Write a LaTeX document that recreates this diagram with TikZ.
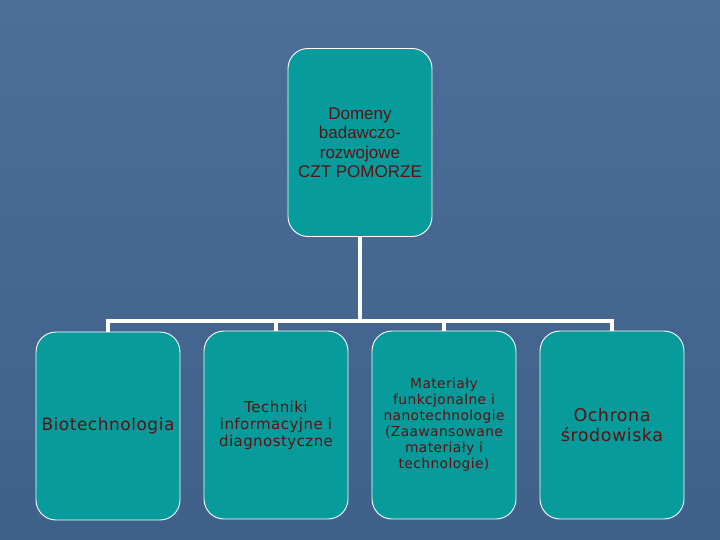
\documentclass[tikz,border=0pt]{standalone}
\usepackage{fontspec}
\setmainfont{DejaVu Sans}[LetterSpace=3]
\newfontfamily\topfont{Liberation Sans}
\definecolor{bgtop}{HTML}{4D6E98}
\definecolor{bgbot}{HTML}{3F6089}
\definecolor{boxfill}{HTML}{079B9B}
\definecolor{txt}{HTML}{5A1212}
\tikzset{
  dombox/.style={draw=white, line width=0.9pt, fill=boxfill, rounded corners=20pt,
    minimum width=144pt, minimum height=188pt, align=center, text=txt, inner sep=2pt},
  linkline/.style={draw=white, line width=3.2pt}
}
\begin{document}
\begin{tikzpicture}[x=1pt,y=-1pt]
\shade[top color=bgtop, bottom color=bgbot] (0,0) rectangle (720,540);
\useasboundingbox (0,0) rectangle (720,540);
\node[dombox, font=\topfont\fontsize{17}{19.5}\selectfont] (top) at (360,142.5) {Domeny\\badawczo-\\rozwojowe\\CZT POMORZE};
\node[dombox, font=\fontsize{17}{19}\selectfont] (b1) at (108,426) {Biotechnologia};
\node[dombox, font=\fontsize{15}{17}\selectfont] (b2) at (276,425) {Techniki\\informacyjne i\\diagnostyczne};
\node[dombox, font=\fontsize{13.8}{16}\selectfont] (b3) at (444,425) {Materiały\\funkcjonalne i\\nanotechnologie\\(Zaawansowane\\materiały i\\technologie)};
\node[dombox, font=\fontsize{17.5}{20}\selectfont] (b4) at (612,425) {Ochrona\\środowiska};
\coordinate (hub) at (360,321);
\draw[linkline] (top.south) -- (hub);
\draw[linkline] (b1.north) -- (b1.north |- hub) -- (b4.north |- hub) -- (b4.north);
\draw[linkline] (b2.north |- hub) -- (b2.north);
\draw[linkline] (b3.north |- hub) -- (b3.north);
\end{tikzpicture}
\end{document}
